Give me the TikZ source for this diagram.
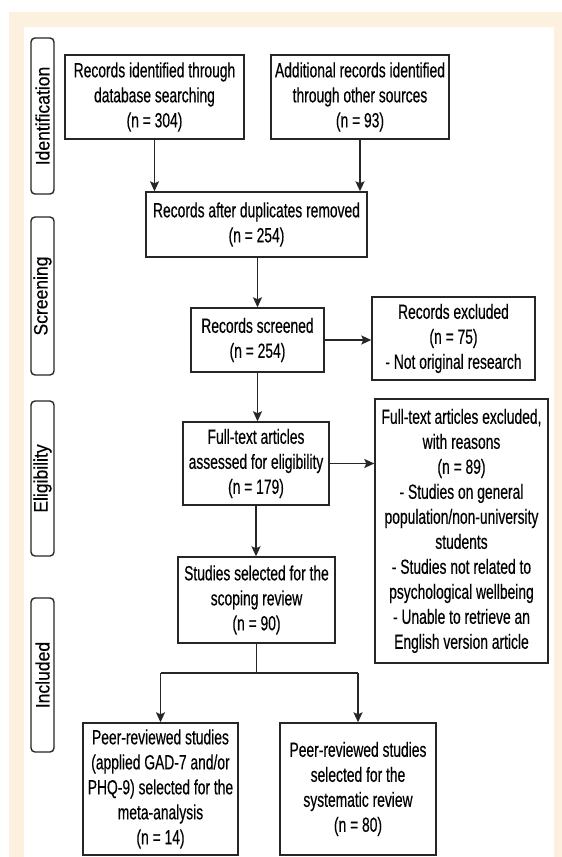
\documentclass[tikz,border=0pt]{standalone}
\usepackage{fontspec}
\setmainfont[FakeStretch=0.675,FakeBold=0.35]{Liberation Sans}
\newfontfamily\labelfont[FakeStretch=0.9,FakeBold=0.35]{Liberation Sans}
\usetikzlibrary{arrows.meta}
\definecolor{cream}{HTML}{FCF1DF}
\definecolor{ink}{HTML}{262626}
\begin{document}
\begin{tikzpicture}[x=1pt,y=-1pt,
 box/.style={draw=ink, line width=1.4pt, align=center, inner sep=0pt, text=black, font=\fontsize{20.5}{25}\selectfont},
 phase/.style={draw=ink, line width=1.4pt, rounded corners=4pt, inner sep=0pt, rotate=90, minimum height=23pt, text=black, font=\labelfont\fontsize{19.5}{20}\selectfont},
 arr/.style={-{Stealth[length=10pt,width=9pt,inset=2pt]}, line width=1.4pt, draw=ink, fill=ink}]
\useasboundingbox (0,0) rectangle (562,857);
\fill[white] (0,0) rectangle (562,857);
\fill[cream] (9,12) rectangle (562,857);
\fill[white] (24,27) rectangle (554,857);
% phase labels
\node[phase, minimum width=156pt] (pid) at (42.5,116) {Identification};
\node[phase, minimum width=158pt] (psc) at (42.5,296) {Screening};
\node[phase, minimum width=155pt] (pel) at (42.5,478.5) {Eligibility};
\node[phase, minimum width=154pt] (pin) at (42.5,675) {Included};
% boxes
\node[box, minimum width=179pt, minimum height=84pt] (b1) at (154.5,97) {Records identified through\\database searching\\(n = 304)};
\node[box, minimum width=178pt, minimum height=84pt] (b2) at (360,97) {Additional records identified\\through other sources\\(n = 93)};
\node[box, minimum width=221pt, minimum height=65pt] (b3) at (256.5,224.5) {Records after duplicates removed\\(n = 254)};
\node[box, minimum width=133pt, minimum height=64pt] (b4) at (257.5,340) {Records screened\\(n = 254)};
\node[box, minimum width=163pt, minimum height=83pt] (b5) at (453.5,338.5) {Records excluded\\(n = 75)\\- Not original research};
\node[box, minimum width=146pt, minimum height=83pt] (b6) at (256,463.5) {Full-text articles\\assessed for eligibility\\(n = 179)};
\node[box, minimum width=173pt, minimum height=264pt] (b7) at (461.5,531) {Full-text articles excluded,\\with reasons\\(n = 89)\\- Studies on general\\population/non-university\\students\\- Studies not related to\\psychological wellbeing\\- Unable to retrieve an\\English version article};
\node[box, minimum width=157pt, minimum height=86pt] (b8) at (256.5,600) {Studies selected for the\\scoping review\\(n = 90)};
\node[box, minimum width=155pt, minimum height=132pt] (b9) at (160.5,789) {Peer-reviewed studies\\(applied GAD-7 and/or\\PHQ-9) selected for the\\meta-analysis\\(n = 14)};
\node[box, minimum width=156pt, minimum height=132pt] (b10) at (358,789) {Peer-reviewed studies\\selected for the\\systematic review\\(n = 80)};
% connectors
\draw[arr] (b1.south) -- (b1.south |- b3.north);
\draw[arr] (b2.south) -- (b2.south |- b3.north);
\draw[arr] (b4.north |- b3.south) -- (b4.north);
\draw[arr] (b4.south) -- (b4.south |- b6.north);
\draw[arr] (b6.south) -- (b6.south |- b8.north);
\draw[arr] (b4.east) -- (b4.east -| b5.west);
\draw[arr] (b6.east) -- (b6.east -| b7.west);
\coordinate (br) at (257,673);
\draw[line width=1.4pt, draw=ink] (b8.south) -- (b8.south |- br);
\draw[line width=1.4pt, draw=ink] (b9.north |- br) -- (b10.north |- br);
\draw[arr] (b9.north |- br) -- (b9.north);
\draw[arr] (b10.north |- br) -- (b10.north);
\end{tikzpicture}
\end{document}
